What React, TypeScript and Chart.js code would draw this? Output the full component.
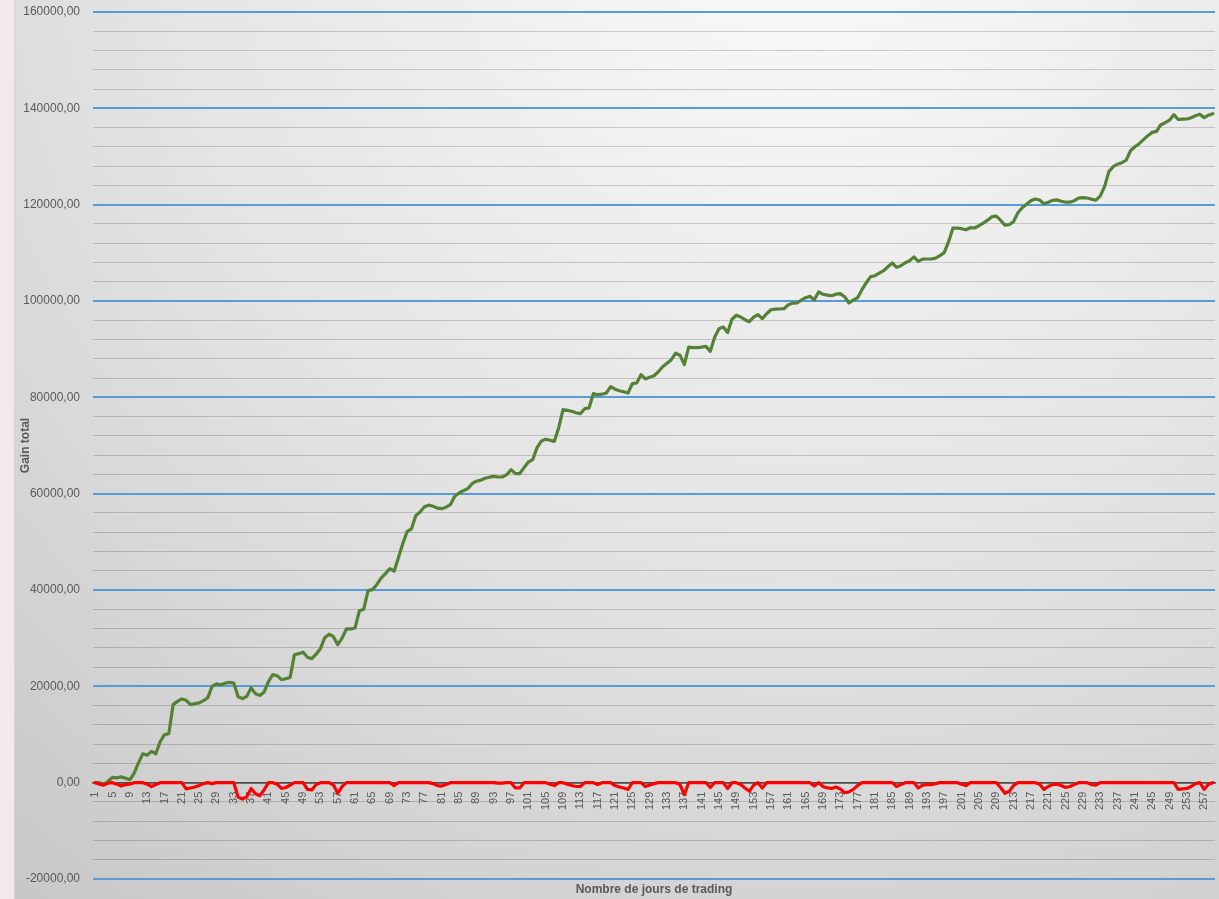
import React, { useEffect, useRef } from 'react';
import { Chart, registerables } from 'chart.js';

Chart.register(...registerables);

// Trading days 1..259 (category axis)
const DAYS: string[] = Array.from({ length: 259 }, (_, i) => String(i + 1));

// Cumulative gain (green line)
const GAIN: number[] = [
  0, 0, -300, 300, 1100, 1000, 1200, 900, 600, 2000,
  4100, 6000, 5700, 6500, 6000, 8500, 9960, 10170, 16200, 16880,
  17380, 17090, 16200, 16400, 16550, 17020, 17650, 20000, 20490, 20350,
  20660, 20820, 20700, 17850, 17440, 17920, 19660, 18480, 18120, 18790,
  20970, 22420, 22210, 21380, 21590, 21860, 26570, 26780, 27090, 26050,
  25740, 26680, 27820, 30100, 30830, 30310, 28650, 30000, 31910, 31910,
  32120, 35710, 36020, 39860, 40070, 41100, 42450, 43380, 44430, 43910,
  46710, 49620, 52110, 52670, 55430, 56200, 57300, 57610, 57400, 56990,
  56880, 57190, 57710, 59480, 60140, 60620, 61040, 62070, 62590, 62800,
  63210, 63420, 63590, 63460, 63460, 63940, 64980, 64150, 64150, 65400,
  66580, 67060, 69550, 70900, 71310, 71100, 70860, 73700, 77440, 77290,
  77120, 76810, 76600, 77640, 77790, 80760, 80550, 80650, 80900, 82210,
  81690, 81380, 81170, 80900, 82830, 82980, 84700, 83810, 84180, 84490,
  85320, 86360, 87090, 87810, 89160, 88750, 86780, 90410, 90310, 90310,
  90410, 90580, 89540, 92490, 94250, 94600, 93480, 96220, 97050, 96680,
  96120, 95700, 96640, 97160, 96330, 97360, 98190, 98300, 98340, 98400,
  99230, 99550, 99590, 100170, 100690, 100960, 100270, 101870, 101410, 101210,
  101100, 101410, 101520, 100890, 99590, 100170, 100690, 102350, 103800, 105050,
  105250, 105770, 106290, 107120, 107890, 106980, 107330, 107950, 108370, 109140,
  108220, 108680, 108720, 108720, 108890, 109410, 110030, 112310, 115120, 115160,
  115010, 114800, 115220, 115160, 115630, 116150, 116780, 117500, 117610, 116780,
  115740, 115840, 116470, 118330, 119370, 120100, 120830, 121180, 120970, 120200,
  120510, 120890, 120990, 120720, 120510, 120510, 120830, 121340, 121450, 121390,
  121140, 120930, 121760, 123730, 126850, 127880, 128400, 128710, 129230, 131200,
  132030, 132660, 133490, 134320, 135010, 135210, 136600, 137020, 137540, 138680,
  137680, 137740, 137780, 138050, 138470, 138780, 138050, 138570, 138880,
];

// Drawdown (red line)
const DRAWDOWN: number[] = [
  0, -300, -500, -100, 0, -300, -700, -400, -300, 0,
  0, 0, -300, -800, -400, 0, 0, 0, 0, 0,
  0, -1300, -1100, -900, -600, -200, 0, -200, 0, 0,
  0, 0, 0, -3000, -3400, -2900, -1200, -2300, -2700, -1500,
  0, 0, -300, -1200, -1000, -500, 0, 0, 0, -1400,
  -1500, -400, 0, 0, 0, -500, -2200, -800, 0, 0,
  0, 0, 0, 0, 0, 0, 0, 0, 0, -600,
  0, 0, 0, 0, 0, 0, 0, 0, -200, -600,
  -700, -400, 0, 0, 0, 0, 0, 0, 0, 0,
  0, 0, 0, -100, -100, 0, 0, -1100, -1100, 0,
  0, 0, 0, 0, 0, -300, -600, 0, 0, -300,
  -600, -800, -800, 0, 0, 0, -400, 0, 0, 0,
  -600, -900, -1100, -1400, 0, 0, 0, -800, -500, -200,
  0, 0, 0, 0, 0, -400, -2500, 0, 0, 0,
  0, 0, -1000, 0, 0, 0, -1200, 0, 0, -400,
  -1100, -1800, -500, 0, -1100, 0, 0, 0, 0, 0,
  0, 0, 0, 0, 0, 0, -700, 0, -800, -1100,
  -1200, -900, -1300, -2100, -1900, -1400, -600, 0, 0, 0,
  0, 0, 0, 0, 0, -800, -400, 0, 0, 0,
  -1100, -500, -400, -400, -200, 0, 0, 0, 0, 0,
  -300, -600, 0, 0, 0, 0, 0, 0, 0, -1000,
  -2200, -1800, -600, 0, 0, 0, 0, 0, -300, -1400,
  -800, -400, -300, -600, -1000, -800, -400, 0, 0, 0,
  -400, -500, 0, 0, 0, 0, 0, 0, 0, 0,
  0, 0, 0, 0, 0, 0, 0, 0, 0, 0,
  -1400, -1300, -1200, -800, -200, 0, -1400, -300, 0,
];

const Y_MIN = -20000;
const Y_MAX = 160000;
const Y_STEP = 4000;
const Y_MAJOR = 20000;
const LABEL_EVERY = 4;

const X_TITLE = 'Nombre de jours de trading';
const Y_TITLE = 'Gain total';

const TEXT = '#595959';
const FONT = 'Liberation Sans, Arial, sans-serif';

const bgPlugin = {
  id: 'bgGradient',
  beforeDraw(chart: any) {
    const { ctx, width, height } = chart;
    const g = ctx.createRadialGradient(785, -100, 0, 785, -100, 1300);
    g.addColorStop(0, '#fbfbfb');
    g.addColorStop(0.5, '#e4e4e4');
    g.addColorStop(1, '#c6c6c6');
    ctx.save();
    ctx.fillStyle = g;
    ctx.fillRect(0, 0, width, height);
    ctx.restore();
  },
};

function fmt(v: number): string {
  return v.toFixed(2).replace('.', ',');
}

export default function App() {
  const ref = useRef<HTMLCanvasElement | null>(null);

  useEffect(() => {
    if (!ref.current) return;
    const chart = new Chart(ref.current, {
      type: 'line',
      data: {
        labels: DAYS,
        datasets: [
          {
            label: 'Drawdown',
            data: DRAWDOWN,
            borderColor: '#ff0000',
            borderWidth: 3.2,
            pointRadius: 0,
            tension: 0,
            borderJoinStyle: 'round',
            borderCapStyle: 'round',
            order: 0,
          },
          {
            label: 'Gain total',
            data: GAIN,
            borderColor: '#548235',
            borderWidth: 3.2,
            pointRadius: 0,
            tension: 0,
            borderJoinStyle: 'round',
            borderCapStyle: 'round',
            order: 1,
          },
        ],
      },
      options: {
        responsive: false,
        animation: false,
        devicePixelRatio: 1,
        layout: { padding: { left: 0, top: 12, right: 40, bottom: 0 } },
        plugins: {
          legend: { display: false },
          tooltip: { enabled: false },
        },
        scales: {
          x: {
            type: 'category',
            position: { y: 0 },
            offset: true,
            grid: { display: false, drawTicks: false },
            border: { display: true, color: '#4d4d4d', width: 1.5 },
            ticks: {
              autoSkip: false,
              minRotation: 90,
              maxRotation: 90,
              padding: 9,
              color: TEXT,
              font: { family: FONT, size: 11 },
              callback: (_v: any, i: number) => (i % LABEL_EVERY === 0 ? DAYS[i] : ''),
            },
          },
          xTitle: {
            type: 'category',
            labels: DAYS,
            position: 'bottom',
            offset: true,
            grid: { display: false, drawTicks: false },
            border: { display: false },
            ticks: { display: false },
            title: {
              display: true,
              text: X_TITLE,
              color: TEXT,
              font: { family: FONT, size: 12, weight: 'bold', lineHeight: 1 },
              padding: { top: 5, bottom: 4 },
            },
          },
          y: {
            type: 'linear',
            min: Y_MIN,
            max: Y_MAX,
            afterFit: (s: any) => {
              s.width = 78;
            },
            border: { display: false },
            grid: {
              drawTicks: true,
              tickLength: 13,
              tickColor: 'rgba(0,0,0,0)',
              color: (c: any) => {
                const v = c.tick ? c.tick.value : 1;
                if (v === 0) return '#4d4d4d';
                return Math.abs(v % Y_MAJOR) < 1e-6 ? '#5b9bd5' : 'rgba(0,0,0,0.17)';
              },
              lineWidth: (c: any) => {
                const v = c.tick ? c.tick.value : 1;
                if (v === 0) return 1.5;
                return Math.abs(v % Y_MAJOR) < 1e-6 ? 2 : 1;
              },
            },
            ticks: {
              stepSize: Y_STEP,
              maxTicksLimit: 100,
              autoSkip: false,
              padding: 0,
              color: TEXT,
              font: { family: FONT, size: 12 },
              callback: (v: any) => (Math.abs(Number(v) % Y_MAJOR) < 1e-6 ? fmt(Number(v)) : ''),
            },
            title: {
              display: true,
              text: Y_TITLE,
              color: TEXT,
              font: { family: FONT, size: 12, weight: 'bold', lineHeight: 1 },
              padding: { top: 5, bottom: 0 },
            },
          },
        },
      } as any,
      plugins: [bgPlugin],
    } as any);
    return () => chart.destroy();
  }, []);

  return (
    <div
      style={{
        position: 'fixed',
        left: 0,
        top: 0,
        width: '100vw',
        height: '100vh',
        overflow: 'hidden',
        background: '#f3e9e9',
      }}
    >
      <div style={{ position: 'absolute', left: 14, top: 0, width: 1, height: 900, background: '#d4d4d4' }} />
      <canvas
        ref={ref}
        width={1240}
        height={900}
        style={{ position: 'absolute', left: 15, top: 0, width: 1240, height: 900 }}
      />
    </div>
  );
}
